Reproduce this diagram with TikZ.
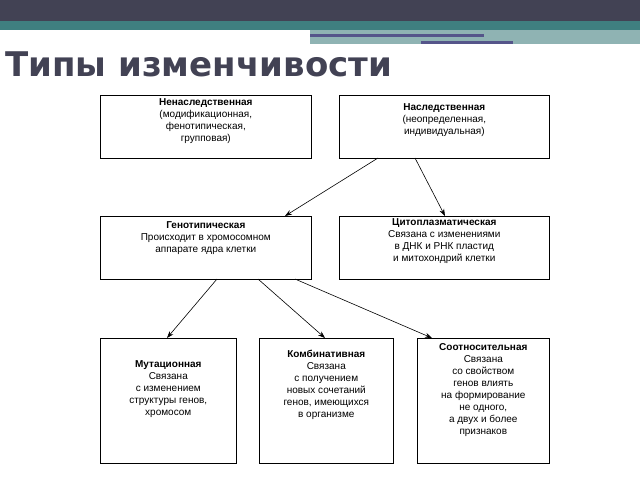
\documentclass[tikz,border=0pt]{standalone}
\usepackage{fontspec}
\setmainfont{Liberation Sans}
\newfontfamily\titlefont{DejaVu Sans}
\usetikzlibrary{positioning,arrows.meta}
\definecolor{topbar}{HTML}{424254}
\definecolor{tealbar}{HTML}{3F7F80}
\definecolor{lightteal}{HTML}{8FB3B3}
\definecolor{lineblue}{HTML}{55558A}
\begin{document}
\begin{tikzpicture}[x=1pt,y=-1pt,>=stealth,semithick]
\tikzset{kind/.style={draw, fill=white, anchor=north west, inner sep=0pt},
         txt/.style={anchor=north, align=center, font=\fontsize{10}{12}\selectfont, inner sep=0pt},
         arr/.style={-{Stealth[length=7pt,width=5pt]}}}
\useasboundingbox (0,0) rectangle (640,480);
% header
\fill[topbar] (0,0) rectangle (640,21);
\fill[tealbar] (0,21) rectangle (640,30);
\fill[lightteal] (310,30) rectangle (640,44);
\fill[lineblue] (310,34) rectangle (484,37);
\fill[lineblue] (421,41) rectangle (513,44);
\node[anchor=west, text=topbar, inner sep=0pt] (title) at (5,64)
  {\titlefont\bfseries\fontsize{34}{38}\selectfont Типы изменчивости};
% boxes
\node[kind, minimum width=211, minimum height=63] (nonher) at (100,95) {};
\node[kind, minimum width=210, minimum height=63] (her) at (339,95) {};
\node[kind, minimum width=211, minimum height=63] (geno) at (100,216) {};
\node[kind, minimum width=210, minimum height=63] (cyto) at (339,216) {};
\node[kind, minimum width=136, minimum height=125] (mut) at (100,338) {};
\node[kind, minimum width=134, minimum height=125] (comb) at (259,338) {};
\node[kind, minimum width=132, minimum height=125] (corr) at (417,338) {};
% texts
\node[txt, yshift=-3pt] at (nonher.north) {\textbf{Ненаследственная}\\(модификационная,\\фенотипическая,\\групповая)};
\node[txt, yshift=-8pt] at (her.north) {\textbf{Наследственная}\\(неопределенная,\\индивидуальная)};
\node[txt, yshift=-5pt] at (geno.north) {\textbf{Генотипическая}\\Происходит в хромосомном\\аппарате ядра клетки};
\node[txt, yshift=-2pt] at (cyto.north) {\textbf{Цитоплазматическая}\\Связана с изменениями\\в ДНК и РНК пластид\\и митохондрий клетки};
\node[txt, yshift=-22pt] at (mut.north) {\textbf{Мутационная}\\Связана\\с изменением\\структуры генов,\\хромосом};
\node[txt, yshift=-12pt] at (comb.north) {\textbf{Комбинативная}\\Связана\\с получением\\новых сочетаний\\генов, имеющихся\\в организме};
\node[txt, yshift=-5pt] at (corr.north) {\textbf{Соотносительная}\\Связана\\со свойством\\генов влиять\\на формирование\\не одного,\\а двух и более\\признаков};
% arrows
\coordinate (h1) at (378,158); \coordinate (h2) at (415,158);
\coordinate (g1) at (217,279); \coordinate (g2) at (258,279); \coordinate (g3) at (295,279);
\draw[arr] (h1) -- (285,216);
\draw[arr] (h2) -- (445,216);
\draw[arr] (g1) -- (167,338);
\draw[arr] (g2) -- (325,338);
\draw[arr] (g3) -- (432,338);
\end{tikzpicture}
\end{document}
